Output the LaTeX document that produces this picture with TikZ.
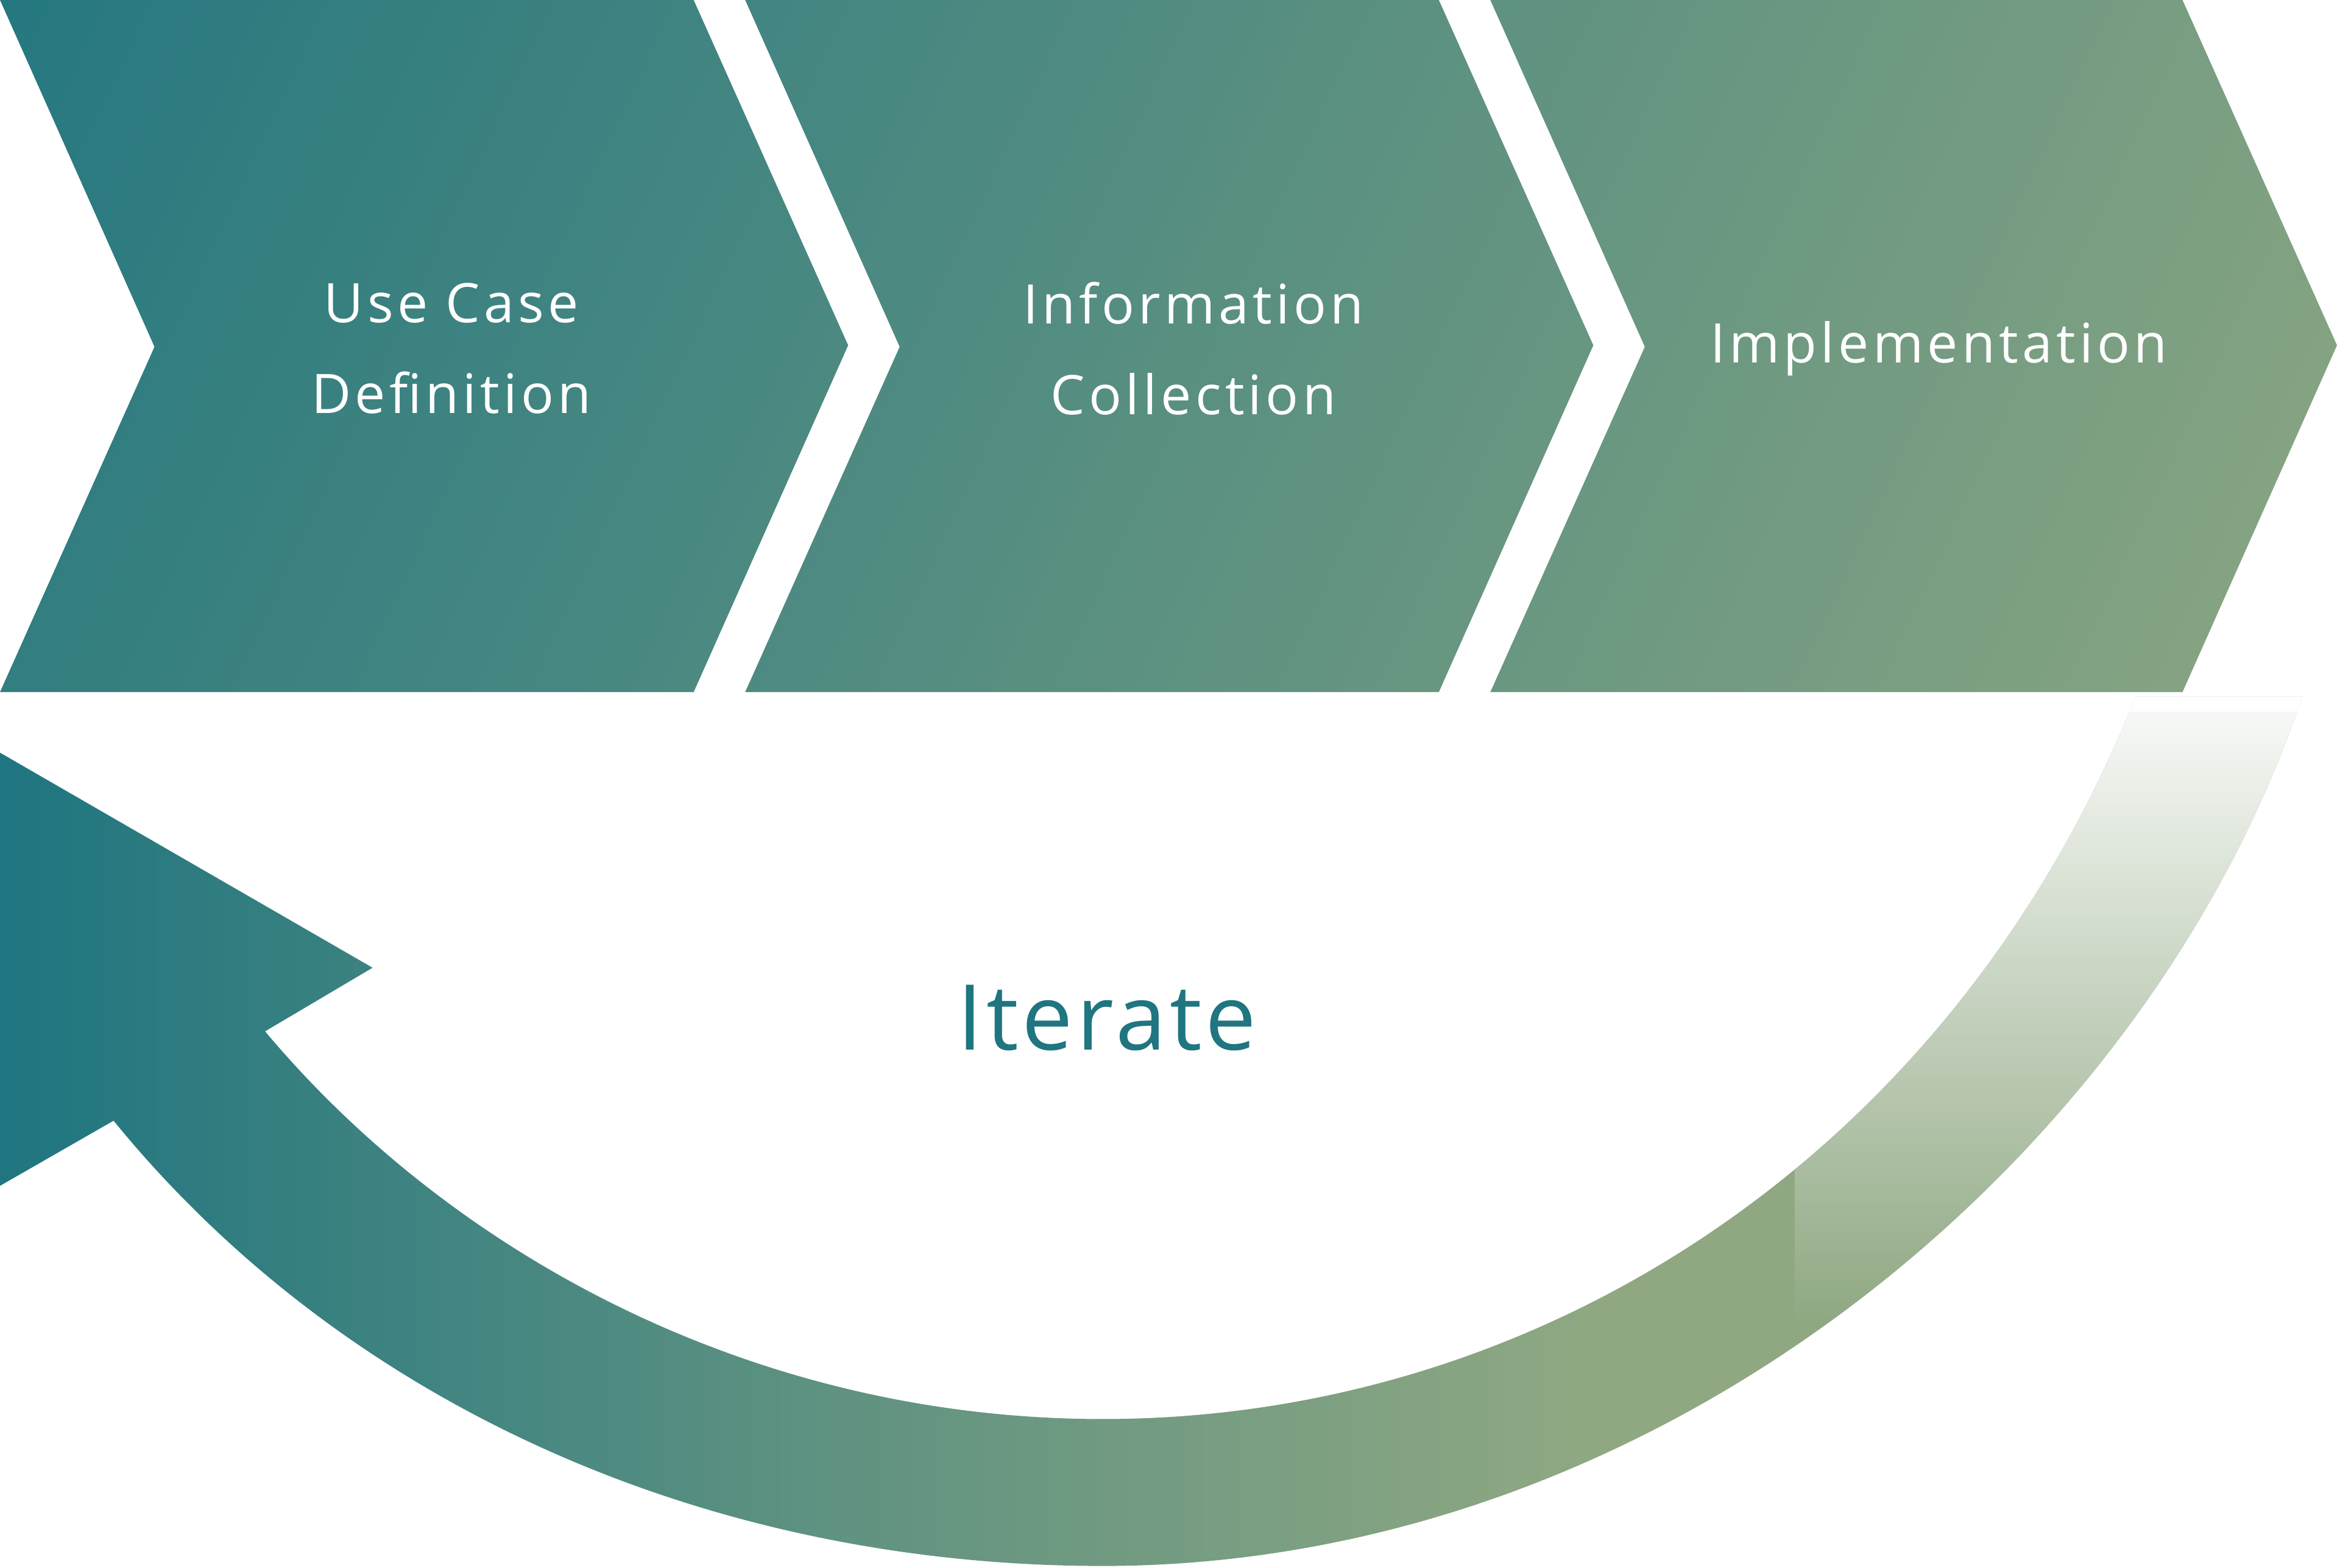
\documentclass[tikz,border=0pt]{standalone}
\usepackage{fontspec}
\setmainfont{Open Sans}
\usetikzlibrary{fadings}
\definecolor{tealc}{HTML}{1F7580}
\definecolor{greenc}{HTML}{8FA882}
\tikzset{lbl/.style={text=white,font=\fontsize{36}{60}\selectfont\addfontfeatures{LetterSpace=7},align=center}}
\begin{document}
\begin{tikzpicture}[x=1pt,y=-1pt]
\useasboundingbox (0,0) rectangle (1545,1035);
\begin{scope}
\clip (0,0)--(458,0)--(560,228)--(458,457)--(0,457)--(102,229)--cycle
 (492,0)--(950,0)--(1052,228)--(950,457)--(492,457)--(594,229)--cycle
 (984,0)--(1441,0)--(1543,228)--(1441,457)--(984,457)--(1086,229)--cycle;
\shade[left color=tealc,right color=greenc,shading angle=65] (-200,-500) rectangle (1745,900);
\end{scope}
\begin{scope}
\clip (0,497)--(246,639)--(175,681) .. controls (300,830) and (500,937) .. (728,937)
 .. controls (1020,937) and (1290,760) .. (1410,460) -- (1520,460)
 .. controls (1420,760) and (1100,1034) .. (728,1034)
 .. controls (470,1034) and (230,930) .. (75,740) -- (0,783) -- cycle;
\shade[left color=tealc,right color=greenc,middle color=tealc!45!greenc] (0,400) rectangle (1050,1100);
\fill[greenc] (1049,400) rectangle (1545,1100);
\fill[white,path fading=south] (1185,440) rectangle (1545,875);
\fill[white] (1185,420) rectangle (1545,470);
\end{scope}
\node[lbl] (a) at (298,230) {Use Case\\Definition};
\node[lbl] (b) at (788,230) {Information\\Collection};
\node[lbl] (c) at (1280,230) {Implementation};
\node[text=tealc,font=\fontsize{60}{60}\selectfont\addfontfeatures{LetterSpace=4}] (it) at (731,672) {Iterate};
\end{tikzpicture}
\end{document}
